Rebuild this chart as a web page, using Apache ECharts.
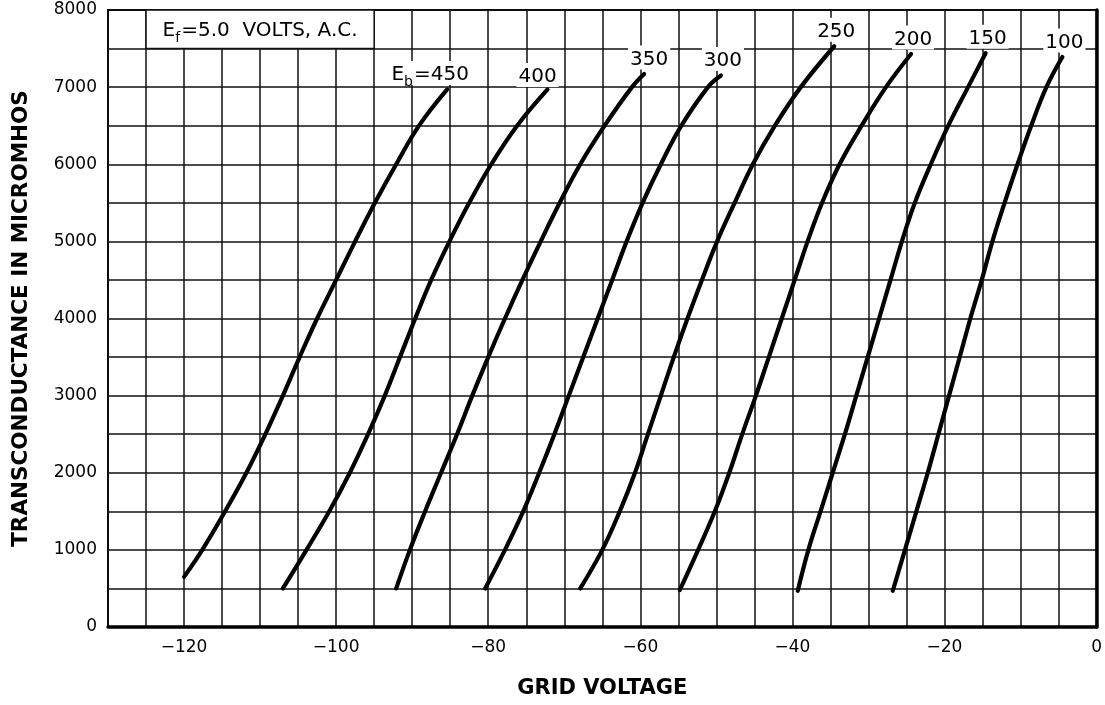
<!DOCTYPE html>
<html>
	<head>
		<meta charset="utf-8">
		<title>Transconductance vs Grid Voltage</title>
		<style type="text/css">
			html,body {
				margin: 0;
				padding: 0;
				background: #FFFFFF;
			}
			#chart {
				width: 1105px;
				height: 705px;
			}
		</style>
	</head>
	<body>
		<div id="chart"></div>
	</body>
</html>
<script src="https://cdn.jsdelivr.net/npm/echarts/dist/echarts.min.js" type="text/javascript" charset="utf-8"></script>
<script type="text/javascript">
	// plate voltages, one curve each: [grid volts, micromhos]
	var plateVolts = [450, 400, 350, 300, 250, 200, 150, 100];
	var curve450 = [[-120.0,650],[-117.6,1000],[-114.6,1500],[-111.8,2000],[-109.3,2500],[-107.0,3000],[-104.8,3500],[-102.5,4000],[-100.0,4500],[-97.5,5000],[-94.9,5500],[-92.1,6000],[-89.1,6500],[-85.4,6970]];
	var curve400 = [[-107.0,500],[-103.9,1000],[-100.9,1500],[-98.2,2000],[-95.8,2500],[-93.6,3000],[-91.6,3500],[-89.6,4000],[-87.5,4500],[-85.1,5000],[-82.5,5500],[-79.6,6000],[-76.2,6500],[-72.2,6970]];
	var curve350 = [[-92.1,500],[-90.3,1000],[-88.3,1500],[-86.2,2000],[-84.1,2500],[-82.1,3000],[-80.0,3500],[-77.8,4000],[-75.5,4500],[-73.1,5000],[-70.6,5500],[-67.9,6000],[-64.7,6500],[-61.1,7000],[-59.5,7170]];
	var curve300 = [[-80.4,500],[-77.8,1000],[-75.4,1500],[-73.3,2000],[-71.3,2500],[-69.4,3000],[-67.5,3500],[-65.6,4000],[-63.7,4500],[-61.8,5000],[-59.7,5500],[-57.3,6000],[-54.6,6500],[-51.1,7000],[-49.4,7150]];
	var curve250 = [[-67.9,500],[-65.0,1000],[-62.7,1500],[-60.7,2000],[-59.0,2500],[-57.3,3000],[-55.6,3500],[-53.8,4000],[-51.9,4500],[-49.9,5000],[-47.6,5500],[-45.2,6000],[-42.3,6500],[-38.9,7000],[-34.5,7530]];
	var curve200 = [[-54.8,480],[-52.4,1000],[-50.2,1500],[-48.3,2000],[-46.6,2500],[-44.8,3000],[-43.1,3500],[-41.4,4000],[-39.7,4500],[-38.0,5000],[-36.1,5500],[-33.8,6000],[-30.9,6500],[-27.7,7000],[-24.4,7430]];
	var curve150 = [[-39.3,470],[-37.9,1000],[-36.3,1500],[-34.7,2000],[-33.1,2500],[-31.6,3000],[-30.1,3500],[-28.6,4000],[-27.1,4500],[-25.6,5000],[-23.9,5500],[-21.8,6000],[-19.5,6500],[-16.9,7000],[-14.6,7440]];
	var curve100 = [[-26.8,470],[-25.2,1000],[-23.7,1500],[-22.2,2000],[-20.8,2500],[-19.4,3000],[-18.0,3500],[-16.6,4000],[-15.1,4500],[-13.7,5000],[-12.1,5500],[-10.4,6000],[-8.6,6500],[-6.6,7000],[-4.5,7390]];
	var curves = [curve450, curve400, curve350, curve300, curve250, curve200, curve150, curve100];

	// axis ranges and ticks
	var xMin = -130, xMax = 0, xStep = 5, xLabelStep = 20;
	var yMin = 0, yMax = 8000, yStep = 500, yLabelStep = 1000;

	var fontMain = '"DejaVu Sans", sans-serif';
	var gridLine = { color: '#111', width: 1.5 };

	// curve label nudges (the two left ones sit up and to the left of the end)
	var labelOffset = { 450: [-17, 0], 400: [-10, 2], 350: [5, 0] };

	var series = curves.map(function (pts, i) {
		var ep = plateVolts[i];
		var data = pts.map(function (p, j) {
			if (j < pts.length - 1) return p;
			return {
				value: p,
				label: {
					show: true,
					position: 'top',
					distance: 4,
					offset: labelOffset[ep] || [2, 0],
					formatter: i === 0 ? '{t|E}{s|b}{t|=' + ep + '}' : '{t|' + ep + '}',
					backgroundColor: '#fff',
					padding: [0, 2, 0, 2],
					rich: {
						t: { fontFamily: fontMain, fontSize: 20, color: '#000', lineHeight: 24, verticalAlign: 'bottom' },
						s: { fontFamily: fontMain, fontSize: 14, color: '#000', lineHeight: 14, verticalAlign: 'bottom', padding: [0, 1, -4, 0] }
					}
				}
			};
		});
		return {
			type: 'line',
			name: 'Eb=' + ep,
			data: data,
			smooth: 0.4,
			showSymbol: true,
			symbol: 'circle',
			symbolSize: 1,
			itemStyle: { color: '#000' },
			lineStyle: { color: '#000', width: 4.2, cap: 'round' },
			z: 3
		};
	});

	// Ef note box in the top left corner
	series[0].markArea = {
		silent: true,
		itemStyle: { color: '#fff', borderColor: '#111', borderWidth: 1.5 },
		label: {
			show: true,
			position: 'inside',
			formatter: '{t|E}{s|f}{t|=5.0  VOLTS, A.C.}',
			rich: {
				t: { fontFamily: fontMain, fontSize: 20, color: '#000', lineHeight: 24, verticalAlign: 'bottom' },
				s: { fontFamily: fontMain, fontSize: 14, color: '#000', lineHeight: 14, verticalAlign: 'bottom', padding: [0, 1, -4, 0] }
			}
		},
		data: [[{ coord: [-125, 7500] }, { coord: [-95, 8000] }]]
	};

	var myChart = echarts.init(document.getElementById('chart'));
	var option = {
		animation: false,
		backgroundColor: '#fff',
		grid: {
			left: 108,
			right: 6,
			top: 10,
			bottom: 78,
			show: true,
			borderColor: '#000',
			borderWidth: 2
		},
		xAxis: {
			type: 'value',
			min: xMin,
			max: xMax,
			interval: xStep,
			name: 'GRID VOLTAGE',
			nameLocation: 'middle',
			nameGap: 51,
			nameTextStyle: { fontFamily: fontMain, fontWeight: 'bold', fontSize: 21, color: '#000' },
			axisLine: { show: true, onZero: false, lineStyle: { color: '#000', width: 3.5 } },
			axisTick: { show: false },
			axisLabel: {
				margin: 12,
				fontFamily: fontMain,
				fontSize: 17,
				color: '#000',
				showMaxLabel: true,
				formatter: function (v) {
					if (v % xLabelStep !== 0) return '';
					return v < 0 ? '\u2212' + Math.abs(v) : '' + v;
				}
			},
			splitLine: { show: true, lineStyle: gridLine }
		},
		yAxis: {
			type: 'value',
			min: yMin,
			max: yMax,
			interval: yStep,
			name: 'TRANSCONDUCTANCE IN MICROMHOS',
			nameLocation: 'middle',
			nameGap: 76,
			nameTextStyle: { fontFamily: fontMain, fontWeight: 'bold', fontSize: 21.5, color: '#000' },
			axisLine: { show: true, lineStyle: { color: '#000', width: 3.5 } },
			axisTick: { show: false },
			axisLabel: {
				margin: 11,
				fontFamily: fontMain,
				fontSize: 17,
				color: '#000',
				formatter: function (v) {
					return v % yLabelStep === 0 ? '' + v : '';
				}
			},
			splitLine: { show: true, lineStyle: gridLine }
		},
		series: series
	};
	myChart.setOption(option);
</script>
